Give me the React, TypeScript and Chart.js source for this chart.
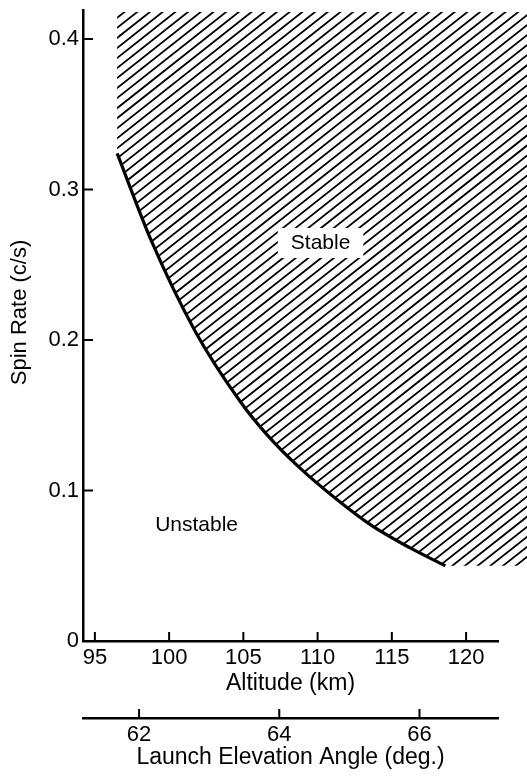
import React, { useEffect, useRef } from "react";
import { Chart, registerables } from "chart.js";

Chart.register(...registerables);

// Stability boundary: spin rate needed at each altitude
const altitudeKm = [96.5, 98.8, 101.8, 104.8, 106.6, 108.8, 111.3, 113.6, 116.2, 118.6];
const spinRate = [0.324, 0.266, 0.205, 0.159, 0.137, 0.115, 0.094, 0.077, 0.062, 0.05];

// Axis ranges and tick values
const altitudeRange = [94.2, 122.15];
const spinRange = [0, 0.4193];
const elevationRange = [61.2, 67.12];

const altitudeTicks = [95, 100, 105, 110, 115, 120];
const spinTicks = [0, 0.1, 0.2, 0.3, 0.4];
const elevationTicks = [62, 64, 66];

// Region annotations (altitude, spin rate)
const regionNames = ["Stable", "Unstable"];
const regionAltitude = [110.2, 101.85];
const regionSpin = [0.2645, 0.077];

const spinTitle = "Spin Rate (c/s)";

const FONT = "'Liberation Sans', Arial, sans-serif";
const INK = "#000";

const stabilityPlugin = {
  id: "stabilityRegion",
  beforeDatasetsDraw(chart: any) {
    const meta = chart.getDatasetMeta(0);
    const line = meta.dataset;
    const pts = meta.data;
    if (!line || !pts || pts.length < 2) return;
    const ctx = chart.ctx as CanvasRenderingContext2D;
    const area = chart.chartArea;
    line.updateControlPoints(area, "x");
    const first = pts[0];
    const last = pts[pts.length - 1];
    const hatchTop = area.top + 2;

    ctx.save();
    ctx.beginPath();
    line.path(ctx);
    ctx.lineTo(chart.width, last.y);
    ctx.lineTo(chart.width, hatchTop);
    ctx.lineTo(first.x, hatchTop);
    ctx.closePath();
    ctx.clip();

    // diagonal hatching of the stable side
    const slope = 0.79;
    const gap = 12.7;
    const H = chart.height;
    ctx.strokeStyle = INK;
    ctx.lineWidth = 1.8;
    ctx.beginPath();
    for (let c = -H / slope; c < chart.width + gap; c += gap) {
      ctx.moveTo(c, H);
      ctx.lineTo(c + H / slope, 0);
    }
    ctx.stroke();
    ctx.restore();
  },
  afterDatasetsDraw(chart: any) {
    const ctx = chart.ctx as CanvasRenderingContext2D;
    const xs = chart.scales.x;
    const ys = chart.scales.y;
    ctx.save();
    ctx.font = `21px ${FONT}`;
    ctx.textAlign = "center";
    ctx.textBaseline = "middle";
    regionNames.forEach((name, i) => {
      const px = xs.getPixelForValue(regionAltitude[i]);
      const py = ys.getPixelForValue(regionSpin[i]);
      if (i === 0) {
        const w = ctx.measureText(name).width + 26;
        ctx.fillStyle = "#fff";
        ctx.fillRect(px - w / 2, py - 15, w, 30);
      }
      ctx.fillStyle = INK;
      ctx.fillText(name, px, py);
    });
    ctx.restore();
  },
  afterDraw(chart: any) {
    const ctx = chart.ctx as CanvasRenderingContext2D;
    const xs = chart.scales.x;
    const x2 = chart.scales.x2;
    const ys = chart.scales.y;
    ctx.save();
    ctx.strokeStyle = INK;
    ctx.lineWidth = 2;
    ctx.beginPath();
    spinTicks.forEach((v) => {
      if (v === 0) return;
      const py = ys.getPixelForValue(v);
      ctx.moveTo(ys.right, py);
      ctx.lineTo(ys.right + 10, py);
    });
    altitudeTicks.forEach((v) => {
      const px = xs.getPixelForValue(v);
      ctx.moveTo(px, xs.top);
      ctx.lineTo(px, xs.top - 9);
    });
    elevationTicks.forEach((v) => {
      const px = x2.getPixelForValue(v);
      ctx.moveTo(px, x2.top);
      ctx.lineTo(px, x2.top - 9);
    });
    ctx.stroke();

    // vertical axis title, centred a little above the middle of the axis
    const ty = ys.getPixelForValue((spinRange[0] + spinRange[1]) / 2) - 13;
    ctx.translate(20, ty);
    ctx.rotate(-Math.PI / 2);
    ctx.font = `22px ${FONT}`;
    ctx.fillStyle = INK;
    ctx.textAlign = "center";
    ctx.textBaseline = "middle";
    ctx.fillText(spinTitle, 0, 0);
    ctx.restore();
  },
};

function axisBase(ticks: number[]) {
  return {
    type: "linear" as const,
    afterBuildTicks: (s: any) => {
      s.ticks = ticks.map((value) => ({ value }));
    },
    grid: { display: true, drawOnChartArea: false, drawTicks: false },
    border: { display: true, color: INK, width: 2.5 },
    ticks: {
      color: INK,
      font: { family: FONT, size: 22 },
      padding: 4,
      maxRotation: 0,
      autoSkip: false,
    },
  };
}

export default function App() {
  const canvasRef = useRef<HTMLCanvasElement | null>(null);

  useEffect(() => {
    if (!canvasRef.current) return;
    const chart = new Chart(canvasRef.current, {
      type: "line",
      data: {
        datasets: [
          {
            data: altitudeKm.map((a, i) => ({ x: a, y: spinRate[i] })),
            xAxisID: "x",
            yAxisID: "y",
            borderColor: INK,
            borderWidth: 3.2,
            pointRadius: 0,
            cubicInterpolationMode: "monotone",
            fill: false,
          },
        ],
      },
      options: {
        animation: false,
        responsive: false,
        devicePixelRatio: 1,
        events: [],
        layout: { padding: { top: 10, right: 29, left: 0, bottom: 0 } },
        plugins: { legend: { display: false }, tooltip: { enabled: false } },
        scales: {
          x: {
            ...axisBase(altitudeTicks),
            position: "bottom",
            min: altitudeRange[0],
            max: altitudeRange[1],
            afterFit: (s: any) => {
              s.height = 77;
              s.paddingLeft = 0;
              s.paddingRight = 0;
            },
            title: {
              display: true,
              text: "Altitude (km)",
              color: INK,
              font: { family: FONT, size: 23 },
              padding: { top: 0, bottom: 21 },
            },
          },
          x2: {
            ...axisBase(elevationTicks),
            position: "bottom",
            min: elevationRange[0],
            max: elevationRange[1],
            afterFit: (s: any) => {
              s.height = 58;
              s.paddingLeft = 0;
              s.paddingRight = 0;
            },
            title: {
              display: true,
              text: "Launch Elevation Angle (deg.)",
              color: INK,
              font: { family: FONT, size: 23 },
              padding: { top: 0, bottom: 5 },
            },
          },
          y: {
            ...axisBase(spinTicks),
            position: "left",
            min: spinRange[0],
            max: spinRange[1],
            afterFit: (s: any) => {
              s.width = 83;
              s.paddingTop = 0;
              s.paddingBottom = 0;
            },
            title: { display: false },
          },
        },
      } as any,
      plugins: [stabilityPlugin],
    });
    return () => chart.destroy();
  }, []);

  return (
    <div style={{ position: "absolute", left: 0, top: 0, width: 527, height: 776, background: "#fff" }}>
      <canvas ref={canvasRef} width={527} height={776} style={{ display: "block" }} />
    </div>
  );
}
